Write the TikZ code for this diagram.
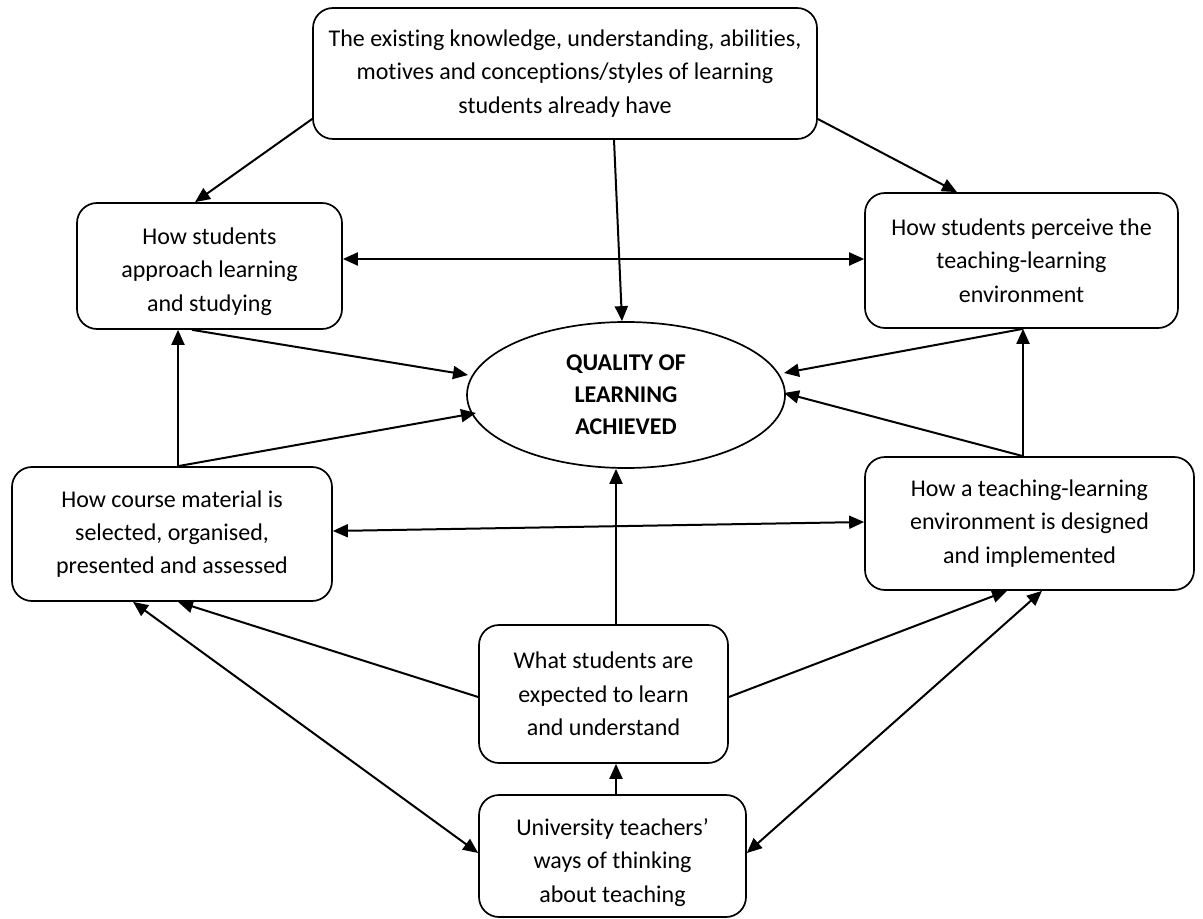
\documentclass[tikz,border=0pt]{standalone}
\usepackage{fontspec}
\setmainfont{Carlito}[Ligatures=NoCommon]
\usetikzlibrary{arrows.meta,shapes.geometric,calc}
\begin{document}
\begin{tikzpicture}[x=0.5pt,y=-0.5pt,
  box/.style={draw,line width=0.85pt,rounded corners=10pt,align=center,inner sep=0pt,
    font=\fontsize{12}{16.7}\selectfont},
  oval/.style={draw,ellipse,line width=0.85pt,align=center,inner sep=0pt,
    font=\fontsize{12}{16}\selectfont\bfseries},
  tip/.tip={Triangle[length=7.5pt,width=6.5pt]},
  arr/.style={line width=1pt,-tip},
  darr/.style={line width=1pt,tip-tip}]
\useasboundingbox (0,0) rectangle (1203,919);

\node[box,minimum width=252pt,minimum height=65.5pt] (T) at (565,73.5)
  {The existing knowledge, understanding, abilities,\\motives and conceptions/styles of learning\\students already have};
\node[box,minimum width=132.5pt,minimum height=63pt] (A) at (209.5,266)
  {\rule{0pt}{14pt}How students\\approach learning\\and studying};
\node[box,minimum width=156.5pt,minimum height=67.5pt] (P) at (1021.5,260.5)
  {How students perceive the\\teaching-learning\\environment};
\node[oval,minimum width=159pt,minimum height=73pt] (Q) at (626,395)
  {QUALITY OF\\LEARNING\\ACHIEVED};
\node[box,minimum width=160pt,minimum height=67pt] (C) at (172,534)
  {How course material is\\selected, organised,\\presented and assessed};
\node[box,minimum width=164.5pt,minimum height=66.5pt] (D) at (1029.5,523.5)
  {How a teaching-learning\\environment is designed\\and implemented};
\node[box,minimum width=124.5pt,minimum height=69pt] (W) at (603.5,694)
  {What students are\\expected to learn\\and understand};
\node[box,minimum width=133.5pt,minimum height=61pt] (U) at (612.5,856)
  {\rule{0pt}{15pt}University teachers’\\ways of thinking\\about teaching};

% from top box
\draw[arr] ($(T.west)+(0,45.5)$) -- ($(A.north)+(-14.5,0)$);
\draw[arr] ($(T.south)+(49,0)$) -- ($(Q.north)+(-4,0)$);
\draw[arr] ($(T.east)+(0,45.5)$) -- ($(P.north)+(-64.5,0)$);
% A <-> P
\draw[darr] ($(A.east)+(0,-7)$) -- ($(P.west)+(0,-1.5)$);
% into Q from left
\draw[arr] ($(A.south)+(-17.5,0)$) -- ($(Q.center)+(-158,-20)$);
\draw[arr] ($(C.north)+(6,0)$) -- ($(A.south)+(-31.5,0)$);
\draw[arr] ($(C.north)+(6,0)$) -- ($(Q.center)+(-150,18)$);
% into Q from right
\draw[arr] ($(P.south)+(1.5,0)$) -- ($(Q.center)+(158,-22)$);
\draw[arr] ($(D.north)+(-6.5,0)$) -- ($(P.south)+(1.5,0)$);
\draw[arr] ($(D.north)+(-6.5,0)$) -- ($(Q.center)+(158,-2)$);
% C <-> D
\draw[darr] ($(C.east)+(0,-3)$) -- ($(D.west)+(0,-1.5)$);
% from W
\draw[arr] ($(W.north)+(12.5,0)$) -- ($(Q.south)+(-10,0)$);
\draw[arr] ($(W.west)+(0,3)$) -- ($(C.south)+(6,0)$);
\draw[arr] ($(W.east)+(0,3)$) -- ($(D.south)+(-22.5,0)$);
% from U
\draw[arr] ($(U.north)+(3.5,0)$) -- ($(W.south)+(12.5,0)$);
\draw[darr] ($(U.west)+(0,-3)$) -- ($(C.south)+(-39,0)$);
\draw[darr] ($(U.east)+(0,-3)$) -- ($(D.south)+(12.5,0)$);
\end{tikzpicture}
\end{document}
